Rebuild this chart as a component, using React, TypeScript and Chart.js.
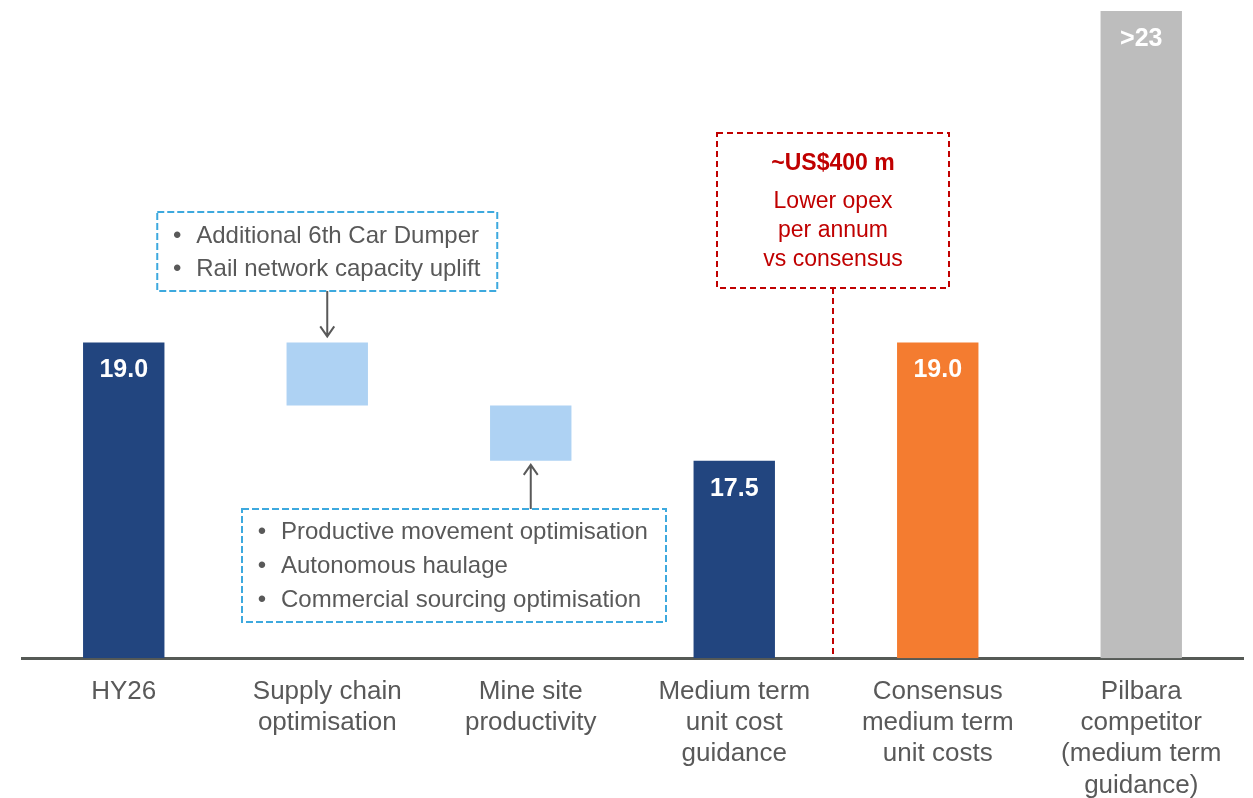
import React, { useEffect, useRef } from "react";
import { Chart, registerables } from "chart.js";

Chart.register(...registerables);

const categories: string[][] = [
  ["HY26"],
  ["Supply chain", "optimisation"],
  ["Mine site", "productivity"],
  ["Medium term", "unit cost", "guidance"],
  ["Consensus", "medium term", "unit costs"],
  ["Pilbara", "competitor", "(medium term", "guidance)"],
];
const barStart = [15, 18.2, 17.5, 15, 15, 15];
const barEnd = [19.0, 19.0, 18.2, 17.5, 19.0, 23.2];
const valueLabels = ["19.0", "", "", "17.5", "19.0", ">23"];
const axisMin = 15;
const axisMax = 23.3;

const supplyNotes = ["Additional 6th Car Dumper", "Rail network capacity uplift"];
const mineNotes = [
  "Productive movement optimisation",
  "Autonomous haulage",
  "Commercial sourcing optimisation",
];
const consensusNoteTitle = "~US$400 m";
const consensusNoteLines = ["Lower opex", "per annum", "vs consensus"];

const barColors = ["#22457F", "#AED2F3", "#AED2F3", "#22457F", "#F47C30", "#BDBDBD"];
const FONT = "'Liberation Sans', Arial, sans-serif";
const GREY = "#595959";

function drawArrow(ctx: CanvasRenderingContext2D, x: number, y1: number, y2: number) {
  ctx.save();
  ctx.strokeStyle = GREY;
  ctx.lineWidth = 2;
  ctx.setLineDash([]);
  ctx.beginPath();
  ctx.moveTo(x, y1);
  ctx.lineTo(x, y2);
  const dir = y2 > y1 ? 1 : -1;
  ctx.moveTo(x - 7, y2 - dir * 10);
  ctx.lineTo(x, y2);
  ctx.lineTo(x + 7, y2 - dir * 10);
  ctx.stroke();
  ctx.restore();
}

function dashedBox(ctx: CanvasRenderingContext2D, x: number, y: number, w: number, h: number, color: string, dash: number[]) {
  ctx.save();
  ctx.strokeStyle = color;
  ctx.lineWidth = 2;
  ctx.setLineDash(dash);
  ctx.strokeRect(x, y, w, h);
  ctx.restore();
}

function bulletList(ctx: CanvasRenderingContext2D, lines: string[], xBullet: number, xText: number, yFirst: number, step: number) {
  ctx.save();
  ctx.fillStyle = GREY;
  ctx.font = `24px ${FONT}`;
  ctx.textBaseline = "middle";
  lines.forEach((t, i) => {
    const y = yFirst + i * step;
    ctx.textAlign = "center";
    ctx.fillText("•", xBullet, y);
    ctx.textAlign = "left";
    ctx.fillText(t, xText, y);
  });
  ctx.restore();
}

const overlayPlugin = {
  id: "overlay",
  afterDatasetsDraw(chart: any) {
    const ctx: CanvasRenderingContext2D = chart.ctx;
    const meta = chart.getDatasetMeta(0);
    // value labels
    ctx.save();
    ctx.fillStyle = "#FFFFFF";
    ctx.font = `bold 25px ${FONT}`;
    ctx.textAlign = "center";
    ctx.textBaseline = "middle";
    meta.data.forEach((el: any, i: number) => {
      if (!valueLabels[i]) return;
      ctx.fillText(valueLabels[i], el.x, el.y + 28);
    });
    ctx.restore();

    const xs = chart.scales.x;
    const bar1 = meta.data[1];
    const bar2 = meta.data[2];

    // Supply chain box
    const b1x = bar1.x - 170;
    dashedBox(ctx, b1x, 212, 340, 79, "#3DA9DE", [7, 3]);
    bulletList(ctx, supplyNotes, b1x + 20, b1x + 39, 236, 33);
    drawArrow(ctx, bar1.x, 291, bar1.y - 6);

    // Mine site box
    const b2x = 242;
    dashedBox(ctx, b2x, 509, 424, 113, "#3DA9DE", [7, 3]);
    bulletList(ctx, mineNotes, b2x + 20, b2x + 39, 532, 34);
    drawArrow(ctx, bar2.x, 509, bar2.base + 4);

    // Consensus red box and divider
    const midX = (xs.getPixelForValue(3) + xs.getPixelForValue(4)) / 2 - 3;
    const rx = midX - 116;
    dashedBox(ctx, rx, 133, 232, 155, "#C00000", [6, 4]);
    ctx.save();
    ctx.strokeStyle = "#C00000";
    ctx.lineWidth = 2;
    ctx.setLineDash([6, 4]);
    ctx.beginPath();
    ctx.moveTo(midX, 288);
    ctx.lineTo(midX, chart.chartArea.bottom);
    ctx.stroke();
    ctx.fillStyle = "#C00000";
    ctx.textAlign = "center";
    ctx.textBaseline = "middle";
    ctx.font = `bold 23px ${FONT}`;
    ctx.fillText(consensusNoteTitle, midX, 164);
    ctx.font = `23px ${FONT}`;
    consensusNoteLines.forEach((t, i) => ctx.fillText(t, midX, 202 + i * 29));
    ctx.restore();
  },
};

export default function App() {
  const ref = useRef<HTMLCanvasElement | null>(null);
  useEffect(() => {
    if (!ref.current) return;
    const chart = new Chart(ref.current, {
      type: "bar",
      data: {
        labels: categories as any,
        datasets: [
          {
            data: barStart.map((s, i) => [s, barEnd[i]]) as any,
            backgroundColor: barColors,
            borderWidth: 0,
            categoryPercentage: 1,
            barPercentage: 0.4,
          },
        ],
      },
      options: {
        animation: false,
        responsive: true,
        maintainAspectRatio: false,
        layout: { padding: { left: 22, right: 10, top: 3, bottom: 0 } },
        plugins: { legend: { display: false }, tooltip: { enabled: false } },
        scales: {
          x: {
            z: 1,
            grid: { display: false, drawTicks: false },
            border: { display: true, color: "#565a56", width: 3 },
            ticks: {
              color: GREY,
              font: { family: FONT, size: 26, lineHeight: 1.2 },
              padding: 18,
              maxRotation: 0,
              autoSkip: false,
            },
          },
          y: { display: false, min: axisMin, max: axisMax },
        },
      },
      plugins: [overlayPlugin],
    });
    return () => chart.destroy();
  }, []);
  return (
    <div style={{ position: "fixed", left: 0, top: 0, width: 1253, height: 819, background: "#fff" }}>
      <canvas ref={ref} />
    </div>
  );
}
